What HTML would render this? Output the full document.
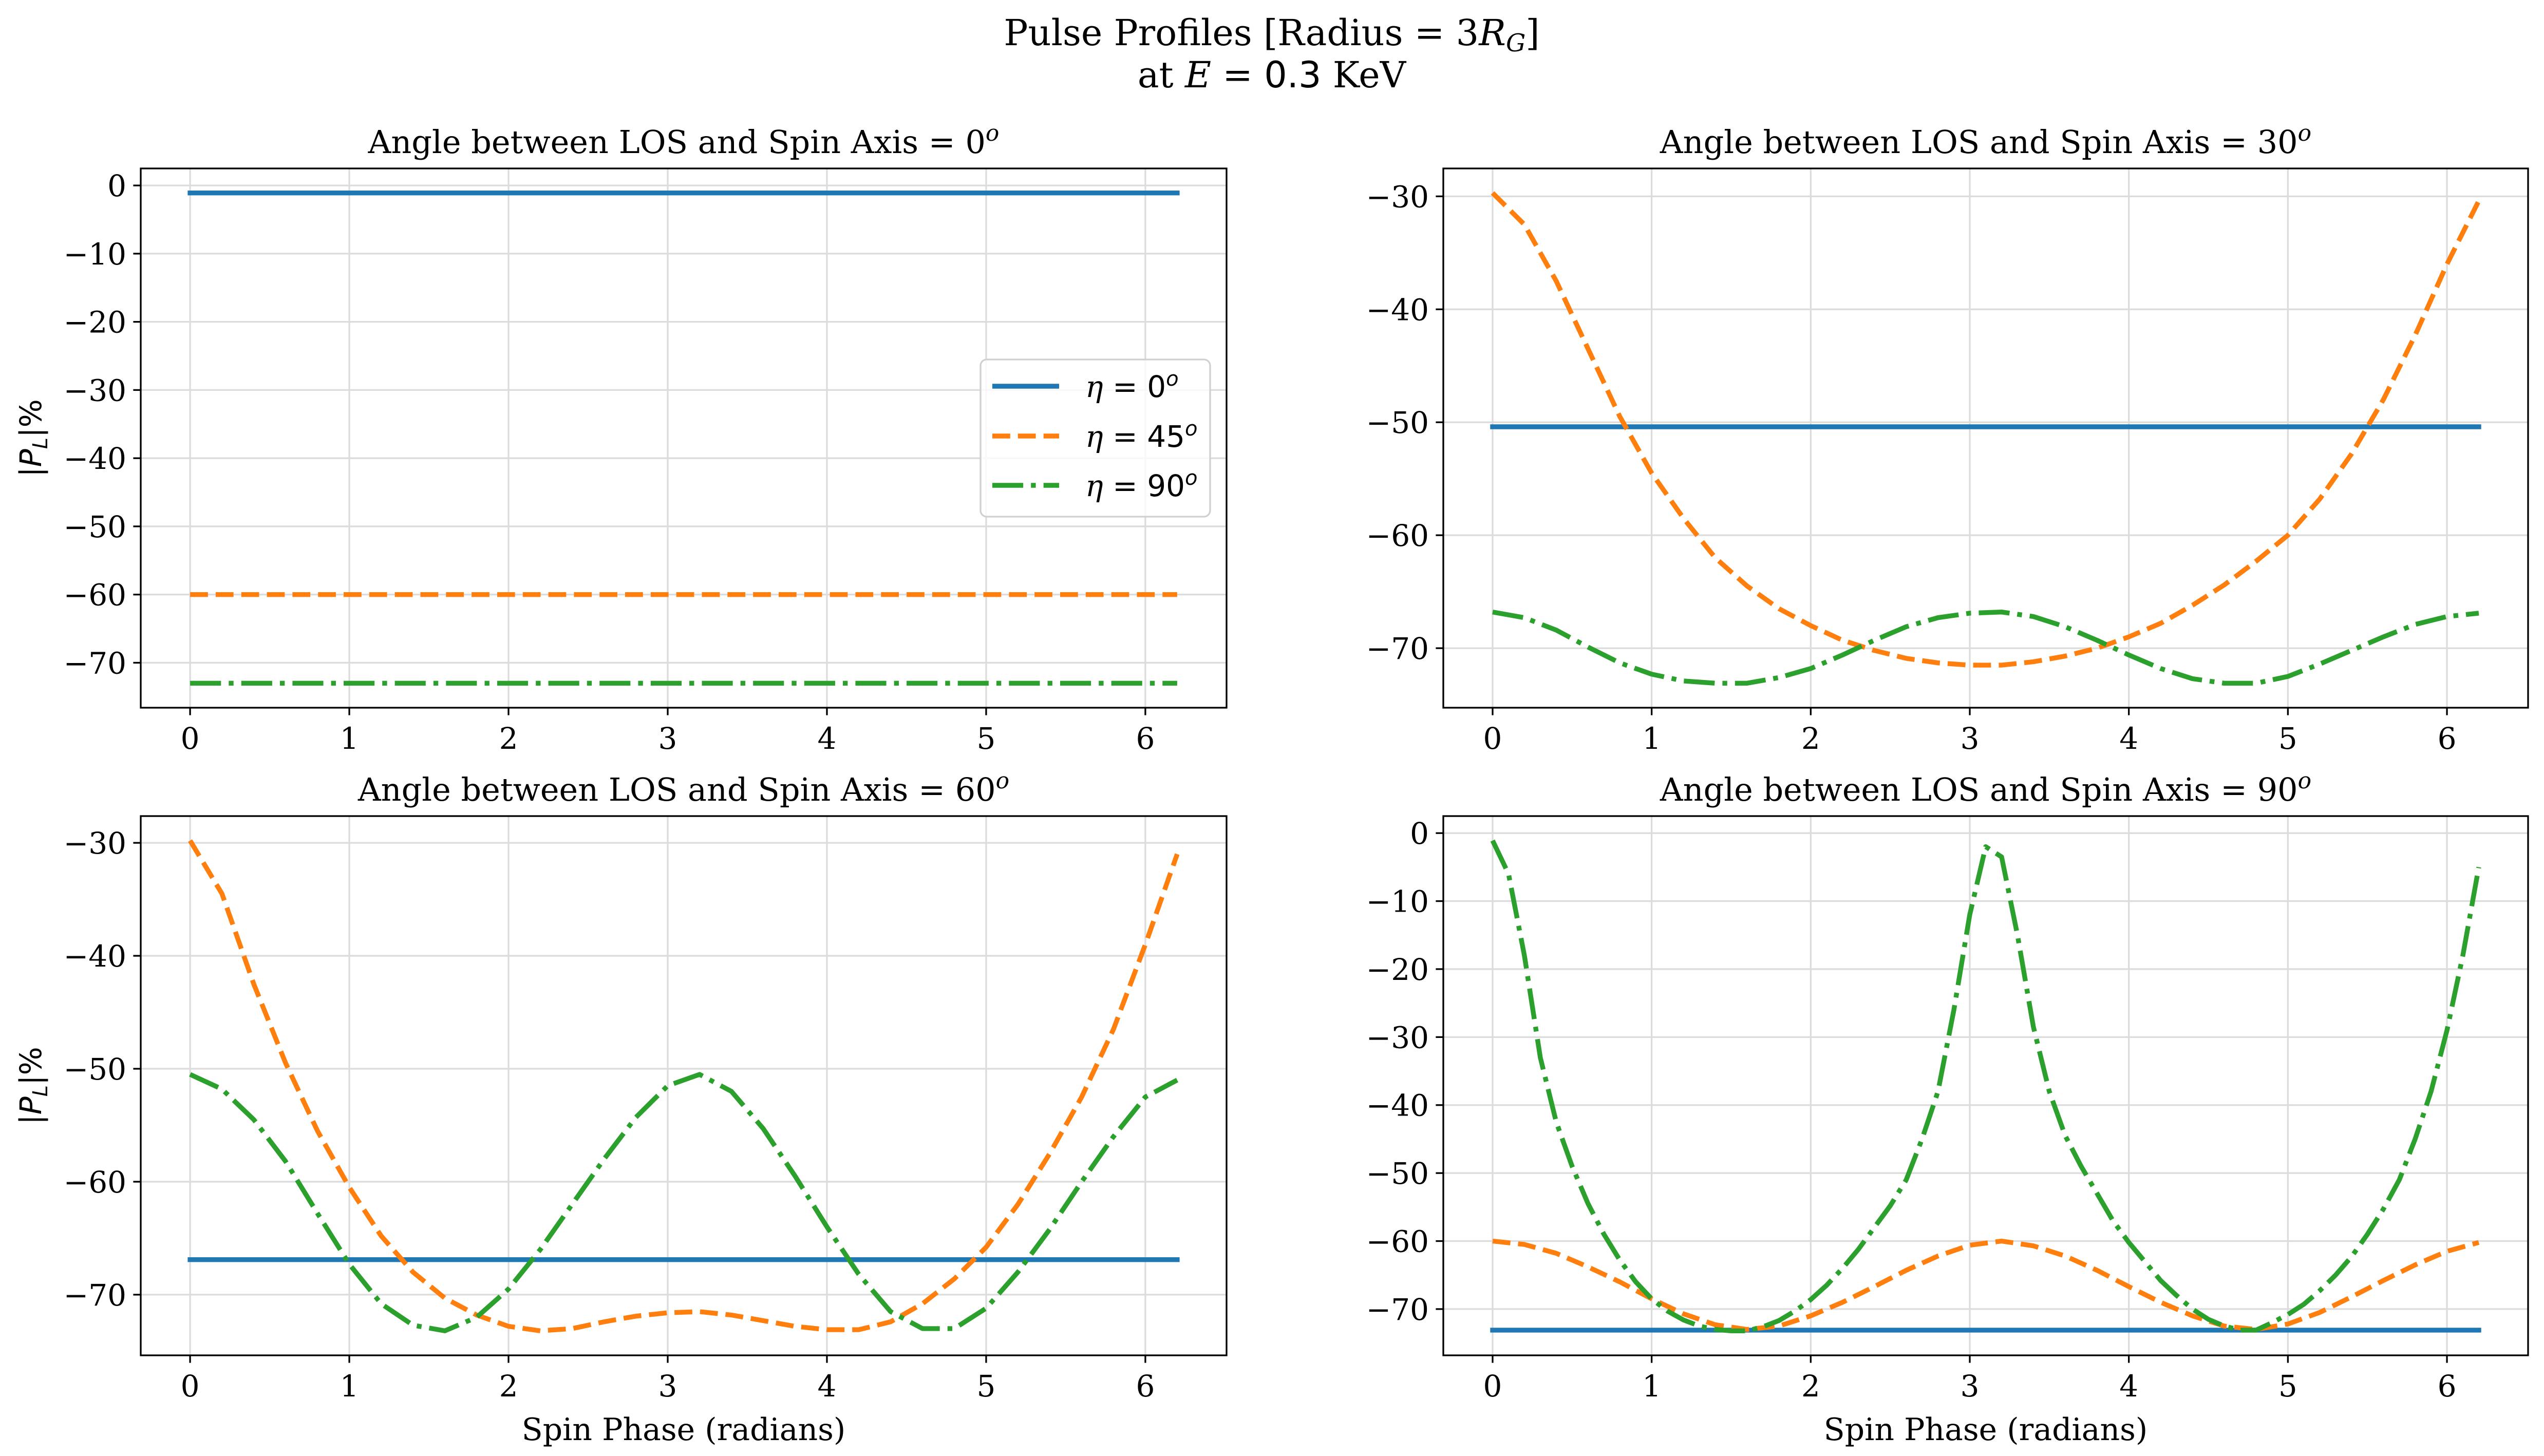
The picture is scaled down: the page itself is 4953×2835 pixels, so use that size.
<!DOCTYPE html>
<html><head><meta charset="utf-8"><style>
html,body{margin:0;padding:0;background:#fff;}
svg{display:block;font-family:"DejaVu Serif","Liberation Serif",serif;}
</style></head><body>
<svg id="fig" width="4953" height="2835" viewBox="0 0 4953 2835" xmlns="http://www.w3.org/2000/svg">
<rect width="4953" height="2835" fill="#fff"/>
<text x="2476" y="88" text-anchor="middle" font-size="70">Pulse Profiles [Radius = 3<tspan font-style="italic">R</tspan><tspan font-style="italic" font-size="48" dy="12">G</tspan><tspan dy="-12">]</tspan></text>
<text x="2476" y="170" text-anchor="middle" font-size="70">at <tspan font-style="italic">E</tspan> = <tspan font-family="DejaVu Sans, sans-serif">0.3</tspan> KeV</text>
<g id="plots"></g>
</svg>
<script>
const phase = [0,0.2,0.4,0.6,0.8,1.0,1.2,1.4,1.6,1.8,2.0,2.2,2.4,2.6,2.8,3.0,3.2,3.4,3.6,3.8,4.0,4.2,4.4,4.6,4.8,5.0,5.2,5.4,5.6,5.8,6.0,6.2];
const phaseFine = [0,0.1,0.2,0.3,0.4,0.5,0.6,0.7,0.8,0.9,1.0,1.1,1.2,1.3,1.4,1.5,1.6,1.7,1.8,1.9,2.0,2.1,2.2,2.3,2.4,2.5,2.6,2.7,2.8,2.9,3.0,3.1,3.2,3.3,3.4,3.5,3.6,3.7,3.8,3.9,4.0,4.1,4.2,4.3,4.4,4.5,4.6,4.7,4.8,4.9,5.0,5.1,5.2,5.3,5.4,5.5,5.6,5.7,5.8,5.9,6.0,6.1,6.2];
const xTicks = [0,1,2,3,4,5,6];

// Panel: angle 0
const a0_eta0 = [-1.1,-1.1,-1.1,-1.1,-1.1,-1.1,-1.1,-1.1,-1.1,-1.1,-1.1,-1.1,-1.1,-1.1,-1.1,-1.1,-1.1,-1.1,-1.1,-1.1,-1.1,-1.1,-1.1,-1.1,-1.1,-1.1,-1.1,-1.1,-1.1,-1.1,-1.1,-1.1];
const a0_eta45 = [-60,-60,-60,-60,-60,-60,-60,-60,-60,-60,-60,-60,-60,-60,-60,-60,-60,-60,-60,-60,-60,-60,-60,-60,-60,-60,-60,-60,-60,-60,-60,-60];
const a0_eta90 = [-73,-73,-73,-73,-73,-73,-73,-73,-73,-73,-73,-73,-73,-73,-73,-73,-73,-73,-73,-73,-73,-73,-73,-73,-73,-73,-73,-73,-73,-73,-73,-73];
const a0_yTicks = [0,-10,-20,-30,-40,-50,-60,-70];

// Panel: angle 30
const a30_eta0 = [-50.4,-50.4,-50.4,-50.4,-50.4,-50.4,-50.4,-50.4,-50.4,-50.4,-50.4,-50.4,-50.4,-50.4,-50.4,-50.4,-50.4,-50.4,-50.4,-50.4,-50.4,-50.4,-50.4,-50.4,-50.4,-50.4,-50.4,-50.4,-50.4,-50.4,-50.4,-50.4];
const a30_eta45 = [-29.7,-32.5,-37.5,-43.5,-49.5,-54.5,-58.5,-62,-64.5,-66.5,-68,-69.3,-70.2,-70.9,-71.3,-71.5,-71.5,-71.2,-70.7,-70,-69,-67.8,-66.2,-64.4,-62.3,-60,-56.8,-52.8,-48,-42.3,-36,-30.4];
const a30_eta90 = [-66.8,-67.3,-68.4,-69.9,-71.3,-72.3,-72.9,-73.1,-73.1,-72.6,-71.8,-70.6,-69.3,-68.1,-67.3,-66.9,-66.8,-67.2,-68.1,-69.3,-70.6,-71.8,-72.7,-73.1,-73.1,-72.5,-71.4,-70.2,-69,-67.9,-67.2,-66.9];
const a30_yTicks = [-30,-40,-50,-60,-70];

// Panel: angle 60
const a60_eta0 = [-66.9,-66.9,-66.9,-66.9,-66.9,-66.9,-66.9,-66.9,-66.9,-66.9,-66.9,-66.9,-66.9,-66.9,-66.9,-66.9,-66.9,-66.9,-66.9,-66.9,-66.9,-66.9,-66.9,-66.9,-66.9,-66.9,-66.9,-66.9,-66.9,-66.9,-66.9,-66.9];
const a60_eta45 = [-29.8,-34.5,-42.5,-49.5,-55.5,-60.5,-64.8,-68,-70.3,-71.8,-72.8,-73.2,-73,-72.4,-71.9,-71.6,-71.5,-71.8,-72.3,-72.8,-73.1,-73.1,-72.4,-70.8,-68.6,-65.8,-62,-57.5,-52.5,-46.5,-39,-31];
const a60_eta90 = [-50.5,-51.8,-54.5,-58.2,-62.8,-67.3,-70.8,-72.7,-73.2,-72,-69.5,-66,-62,-58,-54.3,-51.5,-50.5,-52,-55.3,-59.5,-64,-68.2,-71.5,-73,-73,-71.2,-68,-64.2,-60,-56,-52.5,-51];
const a60_yTicks = [-30,-40,-50,-60,-70];

// Panel: angle 90
const a90_eta0 = [-73.1,-73.1,-73.1,-73.1,-73.1,-73.1,-73.1,-73.1,-73.1,-73.1,-73.1,-73.1,-73.1,-73.1,-73.1,-73.1,-73.1,-73.1,-73.1,-73.1,-73.1,-73.1,-73.1,-73.1,-73.1,-73.1,-73.1,-73.1,-73.1,-73.1,-73.1,-73.1];
const a90_eta45 = [-60,-60.5,-61.8,-63.8,-66,-68.5,-70.7,-72.3,-73,-72.5,-71,-69,-66.7,-64.3,-62.2,-60.6,-60,-60.7,-62.2,-64.3,-66.7,-69,-71,-72.5,-73,-72.2,-70.5,-68.2,-65.8,-63.5,-61.5,-60.2];
const a90_eta90 = [-1.1,-6,-18,-33,-42.5,-49,-54.5,-59,-62.8,-66,-68.5,-70.3,-71.6,-72.5,-73,-73.2,-73.2,-72.6,-71.7,-70.3,-68.6,-66.5,-64,-61.2,-58,-54.8,-51,-45,-38,-26,-12,-2,-3.5,-15,-28.5,-38,-44.5,-49,-53,-57,-60.2,-63,-65.8,-68,-70,-71.5,-72.5,-73.1,-73.1,-72,-70.8,-69.3,-67.3,-65,-62.3,-59,-55.3,-51,-45,-38,-29,-18,-5];
const a90_yTicks = [0,-10,-20,-30,-40,-50,-60,-70];

const NS = "http://www.w3.org/2000/svg";
const LW = 9.4;
const COLORS = ["#1f77b4","#ff7f0e","#2ca02c"];
const DASHES = ["", (3.7*LW)+" "+(1.6*LW), (6.4*LW)+" "+(1.6*LW)+" "+(1*LW)+" "+(1.6*LW)];
const root = document.getElementById("plots");

function mk(tag, attrs, parent){
  const e = document.createElementNS(NS, tag);
  for (const k in attrs) e.setAttribute(k, attrs[k]);
  if (parent) parent.appendChild(e);
  return e;
}
function fmt(v){ return v < 0 ? "\u2212" + Math.abs(v) : String(v); }

function panel(id, box, series, yTicks, angle, showXLabel, showLegend){
  const g = mk("g", {}, root);
  
  
  let xmin=Infinity,xmax=-Infinity,ymin=Infinity,ymax=-Infinity;
  series.forEach(s=>{ s.x.forEach(v=>{xmin=Math.min(xmin,v);xmax=Math.max(xmax,v);}); s.y.forEach(v=>{ymin=Math.min(ymin,v);ymax=Math.max(ymax,v);}); });
  const dx=(xmax-xmin)*0.05, dy=(ymax-ymin)*0.05;
  const x0=xmin-dx, x1=xmax+dx, y0=ymin-dy, y1=ymax+dy;
  const sx = v => box.l + (v-x0)/(x1-x0)*(box.r-box.l);
  const sy = v => box.b - (v-y0)/(y1-y0)*(box.b-box.t);

  xTicks.forEach(t=>{
    const ln = mk("line",{x1:sx(t),x2:sx(t),y1:box.t,y2:box.b,stroke:"#dcdcdc","stroke-width":3.3},g);
    
    
  });
  yTicks.forEach(t=>{
    const ln = mk("line",{x1:box.l,x2:box.r,y1:sy(t),y2:sy(t),stroke:"#dcdcdc","stroke-width":3.3},g);
    
    
  });

  const cp = mk("clipPath",{id:"clip"+id},g);
  mk("rect",{x:box.l,y:box.t,width:box.r-box.l,height:box.b-box.t},cp);
  const lg = mk("g",{"clip-path":"url(#clip"+id+")"},g);
  series.forEach((s,i)=>{
    const d = s.x.map((v,j)=>(j?"L":"M")+sx(v).toFixed(1)+","+sy(s.y[j]).toFixed(1)).join("");
    const p = mk("path",{d:d,fill:"none",stroke:COLORS[i],"stroke-width":LW,"stroke-linejoin":"round","stroke-linecap":i===0?"square":"butt"},lg);
    if (DASHES[i]) p.setAttribute("stroke-dasharray", DASHES[i]);
    
    
  });

  const fr = mk("rect",{x:box.l,y:box.t,width:box.r-box.l,height:box.b-box.t,fill:"none",stroke:"#000","stroke-width":3.3},g);
  
  

  xTicks.forEach(t=>{
    mk("line",{x1:sx(t),x2:sx(t),y1:box.b,y2:box.b+14.6,stroke:"#000","stroke-width":3.3},g);
    const tx = mk("text",{x:sx(t),y:box.b+80,"text-anchor":"middle","font-size":58},g);
    tx.textContent = fmt(t);
    
    
  });
  yTicks.forEach(t=>{
    mk("line",{x1:box.l-14.6,x2:box.l,y1:sy(t),y2:sy(t),stroke:"#000","stroke-width":3.3},g);
    const tx = mk("text",{x:box.l-28,y:sy(t)+21,"text-anchor":"end","font-size":58},g);
    tx.textContent = fmt(t);
    
    
  });

  const tt = mk("text",{x:(box.l+box.r)/2,y:box.t-30,"text-anchor":"middle","font-size":62},g);
  tt.innerHTML = 'Angle between LOS and Spin Axis = '+angle+'<tspan font-style="italic" font-size="44" dy="-24">o</tspan>';
  
  

  if (box.l < 1000){
    const yl = mk("text",{x:0,y:0,"text-anchor":"middle","font-size":58,"font-family":"DejaVu Sans, sans-serif",transform:"translate(80,"+((box.t+box.b)/2)+") rotate(-90)"},g);
    yl.innerHTML = '|<tspan font-style="italic">P</tspan><tspan font-style="italic" font-size="40" dy="12">L</tspan><tspan dy="-12">|%</tspan>';
    
    
  }
  if (showXLabel){
    const xl = mk("text",{x:(box.l+box.r)/2,y:box.b+165,"text-anchor":"middle","font-size":60},g);
    xl.textContent = "Spin Phase (radians)";
    
    
  }
  if (showLegend){
    const lgd = mk("g",{},g);
    
    
    mk("rect",{x:1909,y:700,width:447,height:306,rx:12,fill:"#fff","fill-opacity":0.8,stroke:"#d0d0d0","stroke-width":3.3},lgd);
    const labels=["0","45","90"];
    [752,849,945].forEach((yy,i)=>{
      const ln = mk("line",{x1:1932,x2:2062,y1:yy,y2:yy,stroke:COLORS[i],"stroke-width":LW},lgd);
      if (DASHES[i]) ln.setAttribute("stroke-dasharray", DASHES[i]);
      
      
      const tx = mk("text",{x:2113,y:yy+21,"font-size":58,"font-family":"DejaVu Sans, sans-serif"},lgd);
      tx.innerHTML = '<tspan font-style="italic" font-family="DejaVu Serif, serif">η</tspan> = '+labels[i]+'<tspan font-style="italic" font-size="40" dy="-22">o</tspan>';
      
      
    });
  }
}

panel("tl",{l:274,r:2388,t:328,b:1378},[{x:phase,y:a0_eta0,eta:0},{x:phase,y:a0_eta45,eta:45},{x:phase,y:a0_eta90,eta:90}],a0_yTicks,0,false,true);
panel("tr",{l:2810,r:4922,t:328,b:1378},[{x:phase,y:a30_eta0,eta:0},{x:phase,y:a30_eta45,eta:45},{x:phase,y:a30_eta90,eta:90}],a30_yTicks,30,false,false);
panel("bl",{l:274,r:2388,t:1589,b:2639},[{x:phase,y:a60_eta0,eta:0},{x:phase,y:a60_eta45,eta:45},{x:phase,y:a60_eta90,eta:90}],a60_yTicks,60,true,false);
panel("br",{l:2810,r:4922,t:1589,b:2639},[{x:phase,y:a90_eta0,eta:0},{x:phase,y:a90_eta45,eta:45},{x:phaseFine,y:a90_eta90,eta:90}],a90_yTicks,90,true,false);
</script>
</body></html>
